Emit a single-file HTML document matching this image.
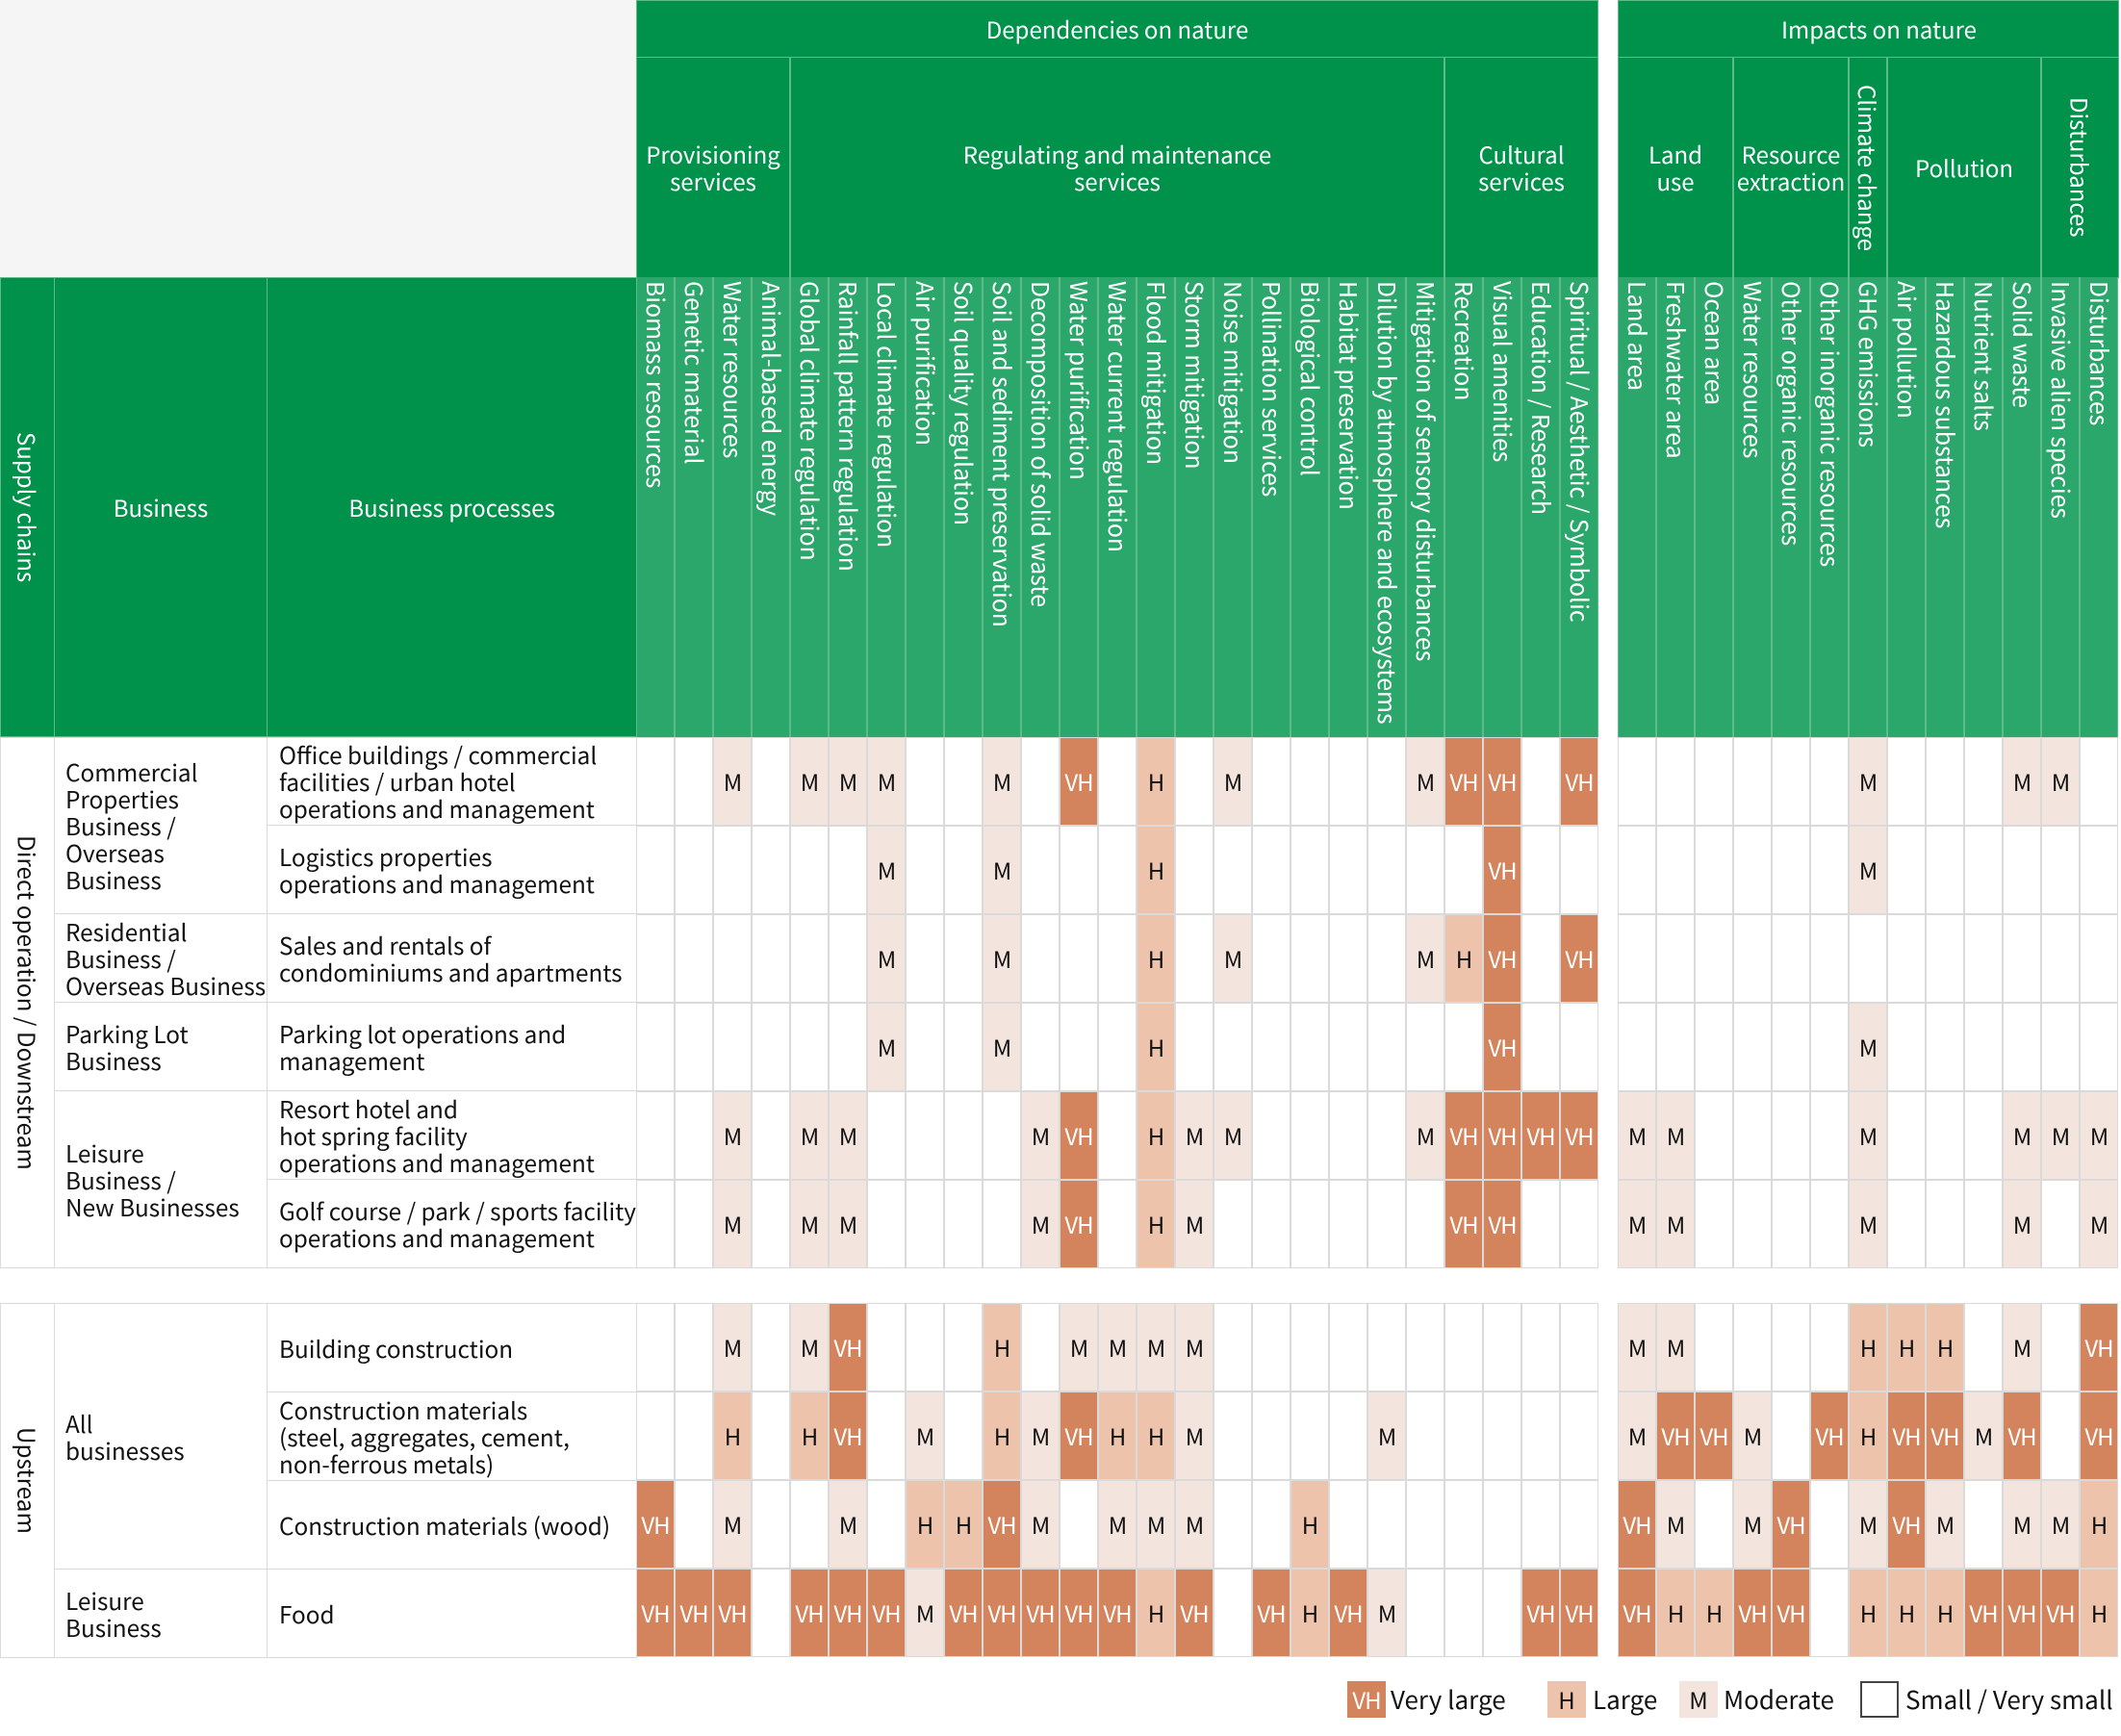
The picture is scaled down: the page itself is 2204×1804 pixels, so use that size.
<!DOCTYPE html>
<html><head><meta charset="utf-8">
<style>
*{box-sizing:border-box;margin:0;padding:0}
body{width:2204px;height:1804px;background:#fff;position:relative;overflow:hidden;font-family:"Noto Sans CJK JP","Liberation Sans",sans-serif;color:#111}
.a{position:absolute}
.dg{background:#00924a;color:#fff}
.hb{border:1px solid #5dbb8a}
.ctr{display:flex;align-items:center;justify-content:center;text-align:center}
.t{font-size:24px;line-height:28px}
.vt{writing-mode:vertical-rl}
.g{display:grid;grid-template-columns:repeat(25,40px);position:absolute}
.gi{grid-template-columns:repeat(13,40px)}
.g b{display:block;border:1px solid #dadada;height:92px;font-weight:normal;font-size:24px;line-height:90px;text-align:center;background:#fff;color:#111;letter-spacing:-1px}
.g b.m{background:#f3e4dd}
.g b.h{background:#edc3ab}
.g b.v{background:#d4845c;color:#fff}
.ch{display:grid;grid-template-columns:repeat(25,40px);position:absolute;top:288px;height:478px}
.ch div{writing-mode:vertical-rl;line-height:36px;font-size:24.8px;color:#fff;background:#2ca76b;border-left:1px solid #5dbb8a;border-right:1px solid #5dbb8a;padding-top:4px;white-space:nowrap}
.lc{border:1px solid #dadada;background:#fff;font-size:24.3px;line-height:28px;white-space:nowrap}
.bz{padding-left:11px;display:flex;align-items:center}
.pz{padding-left:12px;display:flex;align-items:center}
.lgd{position:absolute;top:1747px;height:38px;font-size:26px;line-height:38px}
.box{position:absolute;top:1747px;width:40px;height:38px;font-size:24px;line-height:38px;text-align:center}
</style></head><body>

<div class="a" style="left:0;top:0;width:661px;height:288px;background:#f5f5f5"></div>

<div class="a dg ctr hb t" style="left:661px;top:0;width:1000px;height:60px">Dependencies on nature</div>
<div class="a dg ctr hb t" style="left:1681px;top:0;width:521px;height:60px;padding-left:22px">Impacts on nature</div>

<div class="a dg ctr hb t" style="left:661px;top:59px;width:160px;height:230px">Provisioning<br>services</div>
<div class="a dg ctr hb t" style="left:821px;top:59px;width:680px;height:230px">Regulating and maintenance<br>services</div>
<div class="a dg ctr hb t" style="left:1501px;top:59px;width:160px;height:230px">Cultural<br>services</div>
<div class="a dg ctr hb t" style="left:1681px;top:59px;width:120px;height:230px">Land<br>use</div>
<div class="a dg ctr hb t" style="left:1801px;top:59px;width:120px;height:230px">Resource<br>extraction</div>
<div class="a dg ctr hb t" style="left:1921px;top:59px;width:40px;height:230px"><span class="vt" style="line-height:38px">Climate change</span></div>
<div class="a dg ctr hb t" style="left:1961px;top:59px;width:160px;height:230px">Pollution</div>
<div class="a dg ctr hb t" style="left:2121px;top:59px;width:81px;height:230px"><span class="vt" style="line-height:38px">Disturbances</span></div>

<div class="a dg ctr hb t" style="left:0;top:288px;width:57px;height:478px"><span class="vt" style="line-height:56px">Supply chains</span></div>
<div class="a dg ctr hb t" style="left:56px;top:288px;width:222px;height:478px">Business</div>
<div class="a dg ctr hb t" style="left:277px;top:288px;width:385px;height:478px">Business processes</div>

<div class="ch" style="left:661px">
<div>Biomass resources</div><div>Genetic material</div><div>Water resources</div><div>Animal-based energy</div><div>Global climate regulation</div><div>Rainfall pattern regulation</div><div>Local climate regulation</div><div>Air purification</div><div>Soil quality regulation</div><div>Soil and sediment preservation</div><div>Decomposition of solid waste</div><div>Water purification</div><div>Water current regulation</div><div>Flood mitigation</div><div>Storm mitigation</div><div>Noise mitigation</div><div>Pollination services</div><div>Biological control</div><div>Habitat preservation</div><div>Dilution by atmosphere and ecosystems</div><div>Mitigation of sensory disturbances</div><div>Recreation</div><div>Visual amenities</div><div>Education / Research</div><div>Spiritual / Aesthetic / Symbolic</div>
</div>
<div class="ch" style="left:1681px;grid-template-columns:repeat(13,40px)">
<div>Land area</div><div>Freshwater area</div><div>Ocean area</div><div>Water resources</div><div>Other organic resources</div><div>Other inorganic resources</div><div>GHG emissions</div><div>Air pollution</div><div>Hazardous substances</div><div>Nutrient salts</div><div>Solid waste</div><div>Invasive alien species</div><div>Disturbances</div>
</div>

<div class="a lc ctr" style="left:0;top:766px;width:57px;height:552px"><span class="vt" style="line-height:54px">Direct operation / Downstream</span></div>
<div class="a lc bz" style="left:56px;top:766px;width:222px;height:184px">Commercial<br>Properties<br>Business /<br>Overseas<br>Business</div>
<div class="a lc bz" style="left:56px;top:949px;width:222px;height:93px">Residential<br>Business /<br>Overseas Business</div>
<div class="a lc bz" style="left:56px;top:1041px;width:222px;height:93px">Parking Lot<br>Business</div>
<div class="a lc bz" style="left:56px;top:1133px;width:222px;height:185px">Leisure<br>Business /<br>New Businesses</div>
<div class="a lc pz" style="left:277px;top:766px;width:385px;height:92px">Office buildings / commercial<br>facilities / urban hotel<br>operations and management</div>
<div class="a lc pz" style="left:277px;top:857px;width:385px;height:93px">Logistics properties<br>operations and management</div>
<div class="a lc pz" style="left:277px;top:949px;width:385px;height:93px">Sales and rentals of<br>condominiums and apartments</div>
<div class="a lc pz" style="left:277px;top:1041px;width:385px;height:93px">Parking lot operations and<br>management</div>
<div class="a lc pz" style="left:277px;top:1133px;width:385px;height:93px">Resort hotel and<br>hot spring facility<br>operations and management</div>
<div class="a lc pz" style="left:277px;top:1225px;width:385px;height:93px">Golf course / park / sports facility<br>operations and management</div>

<div class="a lc ctr" style="left:0;top:1354px;width:57px;height:369px"><span class="vt" style="line-height:54px">Upstream</span></div>
<div class="a lc bz" style="left:56px;top:1354px;width:222px;height:277px">All<br>businesses</div>
<div class="a lc bz" style="left:56px;top:1630px;width:222px;height:93px">Leisure<br>Business</div>
<div class="a lc pz" style="left:277px;top:1354px;width:385px;height:93px">Building construction</div>
<div class="a lc pz" style="left:277px;top:1446px;width:385px;height:93px">Construction materials<br>(steel, aggregates, cement,<br>non-ferrous metals)</div>
<div class="a lc pz" style="left:277px;top:1538px;width:385px;height:93px">Construction materials (wood)</div>
<div class="a lc pz" style="left:277px;top:1630px;width:385px;height:93px">Food</div>

<div class="g" style="left:661px;top:766px">
<b></b><b></b><b class=m>M</b><b></b><b class=m>M</b><b class=m>M</b><b class=m>M</b><b></b><b></b><b class=m>M</b><b></b><b class=v>VH</b><b></b><b class=h>H</b><b></b><b class=m>M</b><b></b><b></b><b></b><b></b><b class=m>M</b><b class=v>VH</b><b class=v>VH</b><b></b><b class=v>VH</b>
<b></b><b></b><b></b><b></b><b></b><b></b><b class=m>M</b><b></b><b></b><b class=m>M</b><b></b><b></b><b></b><b class=h>H</b><b></b><b></b><b></b><b></b><b></b><b></b><b></b><b></b><b class=v>VH</b><b></b><b></b>
<b></b><b></b><b></b><b></b><b></b><b></b><b class=m>M</b><b></b><b></b><b class=m>M</b><b></b><b></b><b></b><b class=h>H</b><b></b><b class=m>M</b><b></b><b></b><b></b><b></b><b class=m>M</b><b class=h>H</b><b class=v>VH</b><b></b><b class=v>VH</b>
<b></b><b></b><b></b><b></b><b></b><b></b><b class=m>M</b><b></b><b></b><b class=m>M</b><b></b><b></b><b></b><b class=h>H</b><b></b><b></b><b></b><b></b><b></b><b></b><b></b><b></b><b class=v>VH</b><b></b><b></b>
<b></b><b></b><b class=m>M</b><b></b><b class=m>M</b><b class=m>M</b><b></b><b></b><b></b><b></b><b class=m>M</b><b class=v>VH</b><b></b><b class=h>H</b><b class=m>M</b><b class=m>M</b><b></b><b></b><b></b><b></b><b class=m>M</b><b class=v>VH</b><b class=v>VH</b><b class=v>VH</b><b class=v>VH</b>
<b></b><b></b><b class=m>M</b><b></b><b class=m>M</b><b class=m>M</b><b></b><b></b><b></b><b></b><b class=m>M</b><b class=v>VH</b><b></b><b class=h>H</b><b class=m>M</b><b></b><b></b><b></b><b></b><b></b><b></b><b class=v>VH</b><b class=v>VH</b><b></b><b></b>
</div>
<div class="g" style="left:661px;top:1354px">
<b></b><b></b><b class=m>M</b><b></b><b class=m>M</b><b class=v>VH</b><b></b><b></b><b></b><b class=h>H</b><b></b><b class=m>M</b><b class=m>M</b><b class=m>M</b><b class=m>M</b><b></b><b></b><b></b><b></b><b></b><b></b><b></b><b></b><b></b><b></b>
<b></b><b></b><b class=h>H</b><b></b><b class=h>H</b><b class=v>VH</b><b></b><b class=m>M</b><b></b><b class=h>H</b><b class=m>M</b><b class=v>VH</b><b class=h>H</b><b class=h>H</b><b class=m>M</b><b></b><b></b><b></b><b></b><b class=m>M</b><b></b><b></b><b></b><b></b><b></b>
<b class=v>VH</b><b></b><b class=m>M</b><b></b><b></b><b class=m>M</b><b></b><b class=h>H</b><b class=h>H</b><b class=v>VH</b><b class=m>M</b><b></b><b class=m>M</b><b class=m>M</b><b class=m>M</b><b></b><b></b><b class=h>H</b><b></b><b></b><b></b><b></b><b></b><b></b><b></b>
<b class=v>VH</b><b class=v>VH</b><b class=v>VH</b><b></b><b class=v>VH</b><b class=v>VH</b><b class=v>VH</b><b class=m>M</b><b class=v>VH</b><b class=v>VH</b><b class=v>VH</b><b class=v>VH</b><b class=v>VH</b><b class=h>H</b><b class=v>VH</b><b></b><b class=v>VH</b><b class=h>H</b><b class=v>VH</b><b class=m>M</b><b></b><b></b><b></b><b class=v>VH</b><b class=v>VH</b>
</div>

<div class="g gi" style="left:1681px;top:766px">
<b></b><b></b><b></b><b></b><b></b><b></b><b class=m>M</b><b></b><b></b><b></b><b class=m>M</b><b class=m>M</b><b></b>
<b></b><b></b><b></b><b></b><b></b><b></b><b class=m>M</b><b></b><b></b><b></b><b></b><b></b><b></b>
<b></b><b></b><b></b><b></b><b></b><b></b><b></b><b></b><b></b><b></b><b></b><b></b><b></b>
<b></b><b></b><b></b><b></b><b></b><b></b><b class=m>M</b><b></b><b></b><b></b><b></b><b></b><b></b>
<b class=m>M</b><b class=m>M</b><b></b><b></b><b></b><b></b><b class=m>M</b><b></b><b></b><b></b><b class=m>M</b><b class=m>M</b><b class=m>M</b>
<b class=m>M</b><b class=m>M</b><b></b><b></b><b></b><b></b><b class=m>M</b><b></b><b></b><b></b><b class=m>M</b><b></b><b class=m>M</b>
</div>
<div class="g gi" style="left:1681px;top:1354px">
<b class=m>M</b><b class=m>M</b><b></b><b></b><b></b><b></b><b class=h>H</b><b class=h>H</b><b class=h>H</b><b></b><b class=m>M</b><b></b><b class=v>VH</b>
<b class=m>M</b><b class=v>VH</b><b class=v>VH</b><b class=m>M</b><b></b><b class=v>VH</b><b class=h>H</b><b class=v>VH</b><b class=v>VH</b><b class=m>M</b><b class=v>VH</b><b></b><b class=v>VH</b>
<b class=v>VH</b><b class=m>M</b><b></b><b class=m>M</b><b class=v>VH</b><b></b><b class=m>M</b><b class=v>VH</b><b class=m>M</b><b></b><b class=m>M</b><b class=m>M</b><b class=h>H</b>
<b class=v>VH</b><b class=h>H</b><b class=h>H</b><b class=v>VH</b><b class=v>VH</b><b></b><b class=h>H</b><b class=h>H</b><b class=h>H</b><b class=v>VH</b><b class=v>VH</b><b class=v>VH</b><b class=h>H</b>
</div>

<div class="box" style="left:1400px;background:#d4845c;color:#fff;letter-spacing:-1px">VH</div>
<div class="lgd" style="left:1445px">Very large</div>
<div class="box" style="left:1608px;background:#edc3ab">H</div>
<div class="lgd" style="left:1655px">Large</div>
<div class="box" style="left:1745px;background:#f3e4dd">M</div>
<div class="lgd" style="left:1791px">Moderate</div>
<div class="box" style="left:1933px;border:2px solid #444;background:#fff"></div>
<div class="lgd" style="left:1980px">Small / Very small</div>

</body></html>
